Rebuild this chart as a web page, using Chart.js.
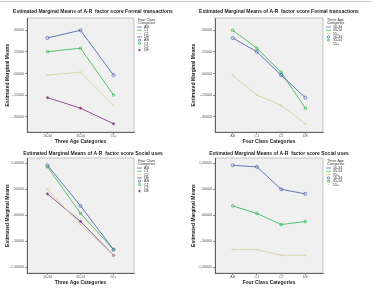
<!DOCTYPE html>
<html>
<head>
<meta charset="utf-8">
<script src="https://cdn.jsdelivr.net/npm/chart.js@4.4.1/dist/chart.umd.min.js"></script>
<style>
  body { margin: 0; background: #fff; width: 372px; height: 289px; overflow: hidden; position: relative; }
  canvas { position: absolute; }
  #topline { position: absolute; left: 0; top: 1px; width: 372px; border-top: 1px solid #cfcfcf; }
</style>
</head>
<body>
<div id="topline"></div>
<canvas id="c1" width="186" height="145" style="left:0;top:0"></canvas>
<canvas id="c2" width="186" height="145" style="left:186px;top:0"></canvas>
<canvas id="c3" width="186" height="145" style="left:0;top:145px"></canvas>
<canvas id="c4" width="186" height="145" style="left:186px;top:145px"></canvas>
<script>
const ageCats = ['16-34', '35-54', '55+']
const classCats = ['AB', 'C1', 'C2', 'DE']

// rows = age group, columns = class (AB, C1, C2, DE)
const formalMeans = [
  [0.247, 0.151, -0.011, -0.167],
  [0.300, 0.176, 0.009, -0.240],
  [-0.011, -0.149, -0.220, -0.348]
]
const socialMeans = [
  [0.96, 0.93, 0.50, 0.41],
  [0.18, 0.035, -0.18, -0.12],
  [-0.66, -0.66, -0.77, -0.77]
]
const formalTicks = [-0.30, -0.15, 0, 0.15, 0.30]
const socialTicks = [-1, -0.5, 0, 0.5, 1]

const seriesColors = ['#3e58ac', '#2eb848', '#d3ce97', '#7c287d']
const markers = ['circle', 'rect', 'crossRot', 'star']
const FONT = '"Liberation Sans", Arial, sans-serif'

function fmt(v) {
  let s = Math.abs(v).toFixed(5)
  if (s.startsWith('0')) s = s.slice(1)
  return (v < 0 ? '-' : '') + s
}

// gray plot area with frame, like SPSS
const plotBg = {
  id: 'plotBg',
  beforeDraw(chart) {
    const a = chart.chartArea, ctx = chart.ctx
    ctx.save()
    ctx.fillStyle = '#f0f0f0'
    ctx.fillRect(a.left, a.top, a.width, a.height)
    ctx.strokeStyle = '#a0a0a0'
    ctx.lineWidth = 0.6
    ctx.strokeRect(a.left, a.top, a.width, a.height)
    ctx.restore()
  }
}

// legend on the right: lines first, then markers
const sideLegend = {
  id: 'sideLegend',
  afterDraw(chart, args, opts) {
    const ctx = chart.ctx, a = chart.chartArea
    const x0 = a.right + 3
    const y0 = a.top + opts.offset
    ctx.save()
    ctx.font = '3.6px ' + FONT
    ctx.fillStyle = '#333'
    ctx.textBaseline = 'middle'
    ctx.fillText(opts.title[0], x0 + 1, y0)
    ctx.fillText(opts.title[1], x0 + 1, y0 + 3.2)
    let y = y0 + 7.5
    const sets = chart.data.datasets
    sets.forEach(ds => {
      ctx.strokeStyle = ds.borderColor
      ctx.lineWidth = 0.7
      ctx.beginPath()
      ctx.moveTo(x0, y)
      ctx.lineTo(x0 + 5, y)
      ctx.stroke()
      ctx.fillStyle = '#333'
      ctx.fillText(ds.label, x0 + 7, y)
      y += 3.3
    })
    sets.forEach(ds => {
      ctx.strokeStyle = ds.borderColor
      ctx.fillStyle = 'rgba(0,0,0,0)'
      Chart.helpers.drawPoint(ctx, { pointStyle: ds.pointStyle, radius: 1.2, borderWidth: 0.5, rotation: 0 }, x0 + 2.5, y)
      ctx.fillStyle = '#333'
      ctx.fillText(ds.label, x0 + 7, y)
      y += 3.3
    })
    ctx.restore()
  }
}

function panel(id, cfg) {
  const { title, xTitle, xCats, names, series, ticks, yMin, yMax, box, legendTitle, xMargin } = cfg
  const datasets = series.map((vals, i) => ({
    label: names[i],
    data: vals.map((v, j) => ({ x: j, y: v })),
    borderColor: seriesColors[i],
    backgroundColor: seriesColors[i],
    borderWidth: 0.8,
    pointStyle: markers[i],
    pointRadius: 1.6,
    pointBorderWidth: 0.6,
    pointBorderColor: seriesColors[i],
    pointBackgroundColor: 'rgba(0,0,0,0)',
    tension: 0,
    xAxisID: 'x',
    yAxisID: 'y'
  }))

  new Chart(document.getElementById(id), {
    type: 'line',
    data: { datasets },
    plugins: [plotBg, sideLegend],
    options: {
      responsive: false,
      animation: false,
      devicePixelRatio: 1,
      layout: { padding: 0 },
      plugins: {
        legend: { display: false },
        tooltip: { enabled: false },
        title: {
          display: true,
          text: title,
          color: '#222',
          font: { family: FONT, size: 5, weight: 'bold', lineHeight: 1 },
          padding: { top: box.titleY - 2.5, bottom: box.top - box.titleY - 2.5 }
        },
        sideLegend: { title: legendTitle, offset: box.legendOff }
      },
      scales: {
        x: {
          type: 'linear',
          min: -xMargin,
          max: xCats.length - 1 + xMargin,
          afterBuildTicks(s) { s.ticks = xCats.map((c, i) => ({ value: i })) },
          afterFit(s) { s.height = 145 - box.bottom },
          ticks: {
            callback: v => xCats[v],
            font: { family: FONT, size: 3.6 },
            color: '#555',
            padding: 0,
            maxRotation: 0,
            autoSkip: false
          },
          grid: { drawOnChartArea: false, tickLength: 2, color: '#444', lineWidth: 0.6 },
          border: { color: '#444', width: 0.8 },
          title: {
            display: true,
            text: xTitle,
            color: '#222',
            font: { family: FONT, size: 5, weight: 'bold', lineHeight: 1.2 },
            padding: { top: 0, bottom: box.xTitlePad }
          }
        },
        y: {
          min: yMin,
          max: yMax,
          afterBuildTicks(s) { s.ticks = ticks.map(v => ({ value: v })) },
          afterFit(s) { s.width = box.left },
          ticks: {
            callback: v => fmt(v),
            font: { family: FONT, size: 3.6 },
            color: '#555',
            padding: 1
          },
          grid: { drawOnChartArea: false, tickLength: 2, color: '#444', lineWidth: 0.6 },
          border: { color: '#444', width: 0.8 },
          title: {
            display: true,
            text: 'Estimated Marginal Means',
            color: '#222',
            font: { family: FONT, size: 5, weight: 'bold', lineHeight: 1.2 },
            padding: { top: 5, bottom: 0 }
          }
        },
        pad: {
          type: 'linear',
          position: 'right',
          display: true,
          grid: { display: false },
          border: { display: false },
          ticks: { display: false },
          afterFit(s) { s.width = 186 - box.right }
        }
      }
    }
  })
}

function transpose(m) { return m[0].map((_, k) => m.map(r => r[k])) }

panel('c1', {
  title: 'Estimated Marginal Means of A-R  factor score Formal transactions',
  xTitle: 'Three Age Categories', xCats: ageCats, names: classCats,
  series: transpose(formalMeans), ticks: formalTicks, yMin: -0.405, yMax: 0.385,
  legendTitle: ['Four Class', 'Categories'], xMargin: 0.62,
  box: { left: 27, right: 134, top: 18, bottom: 132, titleY: 12, xTitlePad: 0.3, legendOff: 1.5 }
})
panel('c2', {
  title: 'Estimated Marginal Means of A-R  factor score Formal transactions',
  xTitle: 'Four Class Categories', xCats: classCats, names: ageCats,
  series: formalMeans, ticks: formalTicks, yMin: -0.405, yMax: 0.385,
  legendTitle: ['Three Age', 'Categories'], xMargin: 0.73,
  box: { left: 29, right: 137, top: 18, bottom: 132, titleY: 12, xTitlePad: 0.3, legendOff: 1.5 }
})
panel('c3', {
  title: 'Estimated Marginal Means of A-R  factor score Social uses',
  xTitle: 'Three Age Categories', xCats: ageCats, names: classCats,
  series: transpose(socialMeans), ticks: socialTicks, yMin: -1.11, yMax: 1.10,
  legendTitle: ['Four Class', 'Categories'], xMargin: 0.62,
  box: { left: 27, right: 134, top: 13, bottom: 128, titleY: 9, xTitlePad: 4.3, legendOff: 2.5 }
})
panel('c4', {
  title: 'Estimated Marginal Means of A-R  factor score Social uses',
  xTitle: 'Four Class Categories', xCats: classCats, names: ageCats,
  series: socialMeans, ticks: socialTicks, yMin: -1.11, yMax: 1.10,
  legendTitle: ['Three Age', 'Categories'], xMargin: 0.73,
  box: { left: 29, right: 137, top: 13, bottom: 128, titleY: 9, xTitlePad: 4.3, legendOff: 2.5 }
})
</script>
</body>
</html>
